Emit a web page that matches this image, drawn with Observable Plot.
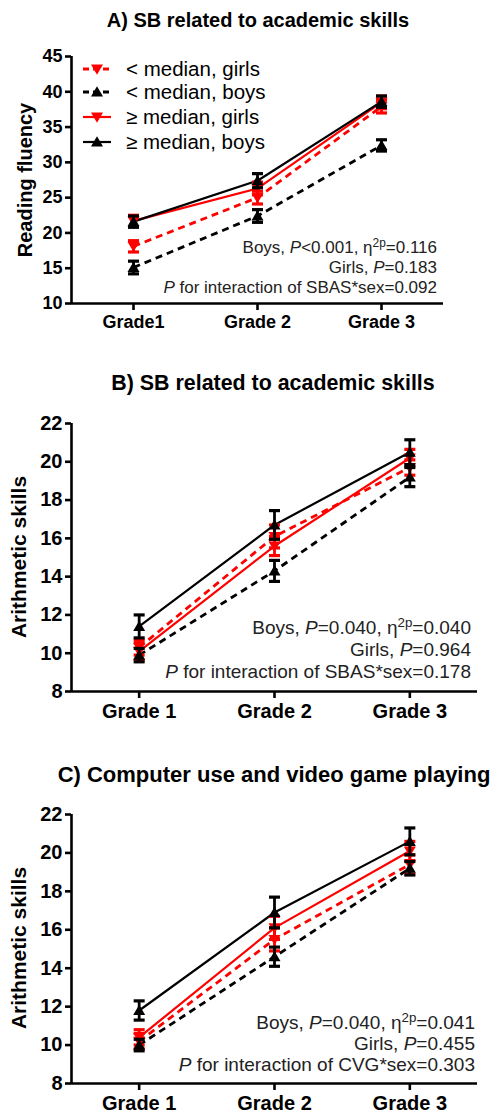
<!DOCTYPE html>
<html>
<head>
<meta charset="utf-8">
<script src="https://cdn.jsdelivr.net/npm/d3@7"></script>
<script src="https://cdn.jsdelivr.net/npm/@observablehq/plot@0.6"></script>
<style>
  html, body { margin: 0; padding: 0; background: #fff; }
  #root { position: relative; width: 493px; height: 1115px; font-family: "Liberation Sans", Arial, sans-serif; color: #000; overflow: hidden; }
  .abs { position: absolute; }
  .title { font-weight: bold; white-space: nowrap; transform: translate(-50%, -50%); }
  .ylab { font-weight: bold; white-space: nowrap; transform: translate(-50%, -50%) rotate(-90deg); }
  .note { text-align: right; white-space: nowrap; color: #222; }
  .note sup { font-size: 0.7em; vertical-align: 0.5em; line-height: 0; }
  .legend-row { position: absolute; display: flex; align-items: center; white-space: nowrap; }
</style>
</head>
<body>
<div id="root"></div>
<script>
// ---------- data ----------
const grades = [1, 2, 3];
const gradeLabelsA = ["Grade1", "Grade 2", "Grade 3"];
const gradeLabelsBC = ["Grade 1", "Grade 2", "Grade 3"];
const seriesNames = ["< median, girls", "< median, boys", "\u2265 median, girls", "\u2265 median, boys"];

const yTicksA = [10, 15, 20, 25, 30, 35, 40, 45];
const yTicksBC = [8, 10, 12, 14, 16, 18, 20, 22];

// Panel A: Reading fluency
const A_ltGirls = [18.1, 25.0, 37.9];
const A_ltGirlsErr = [0.8, 0.9, 0.9];
const A_ltBoys = [15.1, 22.4, 32.4];
const A_ltBoysErr = [0.9, 0.9, 0.8];
const A_geGirls = [21.7, 26.3, 38.5];
const A_geGirlsErr = [0.8, 0.9, 0.9];
const A_geBoys = [21.6, 27.4, 38.6];
const A_geBoysErr = [0.8, 1.0, 0.8];

// Panel B: Arithmetic skills (SB related to academic skills)
const B_ltGirls = [10.3, 16.1, 19.7];
const B_ltGirlsErr = [0.4, 0.6, 0.4];
const B_ltBoys = [9.9, 14.3, 19.2];
const B_ltBoysErr = [0.35, 0.55, 0.5];
const B_geGirls = [10.1, 15.6, 20.2];
const B_geGirlsErr = [0.45, 0.5, 0.45];
const B_geBoys = [11.4, 16.7, 20.5];
const B_geBoysErr = [0.6, 0.75, 0.65];

// Panel C: Arithmetic skills (Computer use and video game playing)
const C_ltGirls = [10.2, 15.5, 19.4];
const C_ltGirlsErr = [0.4, 0.6, 0.5];
const C_ltBoys = [10.0, 14.6, 19.2];
const C_ltBoysErr = [0.3, 0.5, 0.35];
const C_geGirls = [10.4, 16.1, 20.1];
const C_geGirlsErr = [0.4, 0.6, 0.5];
const C_geBoys = [11.8, 16.9, 20.6];
const C_geBoysErr = [0.5, 0.8, 0.7];

// ---------- styles ----------
const FONT = '"Liberation Sans", Arial, sans-serif';
const RED = "#ff0000";
const BLACK = "#000000";
const styles = [
  {color: RED,   dash: "7,5", down: true},
  {color: BLACK, dash: "7,5", down: false},
  {color: RED,   dash: null,  down: true},
  {color: BLACK, dash: null,  down: false}
];

const triDown = {draw(ctx, size) { const r = Math.sqrt(size / Math.PI); ctx.moveTo(-r, -r * 0.75); ctx.lineTo(r, -r * 0.75); ctx.lineTo(0, r * 0.95); ctx.closePath(); }};
const triUp = {draw(ctx, size) { const r = Math.sqrt(size / Math.PI); ctx.moveTo(-r, r * 0.75); ctx.lineTo(r, r * 0.75); ctx.lineTo(0, -r * 0.95); ctx.closePath(); }};
const cap = {draw(ctx, size) { const r = Math.sqrt(size / Math.PI); ctx.moveTo(-r, 0); ctx.lineTo(r, 0); }};

function rows(seriesArrays) {
  return seriesArrays.map(([vals, errs], s) => grades.map((g, i) => ({s, g, v: vals[i], e: errs[i]})));
}

const root = document.getElementById("root");

function panel({top, height, marginTop, marginBottom, marginRight, yDomain, yTicks, labels, data, fs}) {
  const marks = [
    Plot.ruleX([0.5], {strokeWidth: 2.6}),
    Plot.ruleY([yDomain[0]], {strokeWidth: 2.6}),
    Plot.axisY({ticks: yTicks, tickSize: 6, tickPadding: 3, strokeWidth: 2.6, fontSize: fs, fontWeight: "bold", fill: "#000", label: null, tickFormat: d => String(d)}),
    Plot.axisX({ticks: grades, tickSize: 7, tickPadding: 5, strokeWidth: 2.6, fontSize: fs, fontWeight: "bold", fill: "#000", label: null, tickFormat: d => labels[d - 1]})
  ];
  data.forEach((ser, s) => {
    const st = styles[s];
    marks.push(Plot.line(ser, {x: "g", y: "v", stroke: st.color, strokeWidth: st.dash ? 2.8 : 2.2, strokeDasharray: st.dash || undefined, strokeLinecap: "butt"}));
  });
  const order = [0, 2, 1, 3];
  order.forEach(s => {
    const ser = data[s];
    const st = styles[s];
    marks.push(Plot.ruleX(ser, {x: "g", y1: d => d.v - d.e, y2: d => d.v + d.e, stroke: st.color, strokeWidth: 2.8}));
    marks.push(Plot.dot(ser, {x: "g", y: d => d.v + d.e, symbol: cap, r: 5.5, stroke: st.color, strokeWidth: 3.2, fill: "none"}));
    marks.push(Plot.dot(ser, {x: "g", y: d => d.v - d.e, symbol: cap, r: 5.5, stroke: st.color, strokeWidth: 3.2, fill: "none"}));
    marks.push(Plot.dot(ser, {x: "g", y: "v", symbol: st.down ? triDown : triUp, r: 6, fill: st.color, stroke: "none"}));
  });
  const chart = Plot.plot({
    width: 493, height,
    marginLeft: 71, marginRight, marginTop, marginBottom,
    x: {domain: [0.5, 3.5], axis: null},
    y: {domain: yDomain, axis: null},
    style: {fontFamily: FONT, background: "transparent", overflow: "visible", color: "#000"},
    marks
  });
  const div = document.createElement("div");
  div.className = "abs";
  div.style.left = "0px";
  div.style.top = top + "px";
  div.appendChild(chart);
  root.appendChild(div);
}

function addDiv(cls, html, css) {
  const d = document.createElement("div");
  d.className = "abs " + cls;
  d.innerHTML = html;
  Object.assign(d.style, css);
  root.appendChild(d);
  return d;
}

panel({top: 0, height: 338, marginTop: 56, marginBottom: 35, marginRight: 50,
  yDomain: [10, 45], yTicks: yTicksA, labels: gradeLabelsA, fs: 18,
  data: rows([[A_ltGirls, A_ltGirlsErr], [A_ltBoys, A_ltBoysErr], [A_geGirls, A_geGirlsErr], [A_geBoys, A_geBoysErr]])});
panel({top: 395, height: 336, marginTop: 28, marginBottom: 40, marginRight: 16,
  yDomain: [8, 22], yTicks: yTicksBC, labels: gradeLabelsBC, fs: 20,
  data: rows([[B_ltGirls, B_ltGirlsErr], [B_ltBoys, B_ltBoysErr], [B_geGirls, B_geGirlsErr], [B_geBoys, B_geBoysErr]])});
panel({top: 785, height: 328, marginTop: 29, marginBottom: 30, marginRight: 16,
  yDomain: [8, 22], yTicks: yTicksBC, labels: gradeLabelsBC, fs: 20,
  data: rows([[C_ltGirls, C_ltGirlsErr], [C_ltBoys, C_ltBoysErr], [C_geGirls, C_geGirlsErr], [C_geBoys, C_geBoysErr]])});

addDiv("title", "A) SB related to academic skills", {left: "258px", top: "20px", fontSize: "20px"});
addDiv("title", "B) SB related to academic skills", {left: "273px", top: "383px", fontSize: "21.4px"});
addDiv("title", "C) Computer use and video game playing", {left: "274px", top: "775px", fontSize: "22px"});

addDiv("ylab", "Reading fluency", {left: "25px", top: "180px", fontSize: "20px"});
addDiv("ylab", "Arithmetic skills", {left: "19px", top: "557px", fontSize: "21px"});
addDiv("ylab", "Arithmetic skills", {left: "19px", top: "948px", fontSize: "21px"});

addDiv("note", "Boys, <i>P</i>&lt;0.001, \u03b7<sup>2p</sup>=0.116<br>Girls, <i>P</i>=0.183<br><i>P</i> for interaction of SBAS*sex=0.092",
  {right: (493 - 437) + "px", top: "238px", fontSize: "17px", lineHeight: "20px"});
addDiv("note", "Boys, <i>P</i>=0.040, \u03b7<sup>2p</sup>=0.040<br>Girls, <i>P</i>=0.964<br><i>P</i> for interaction of SBAS*sex=0.178",
  {right: (493 - 471) + "px", top: "617px", fontSize: "19px", lineHeight: "22px"});
addDiv("note", "Boys, <i>P</i>=0.040, \u03b7<sup>2p</sup>=0.041<br>Girls, <i>P</i>=0.455<br><i>P</i> for interaction of CVG*sex=0.303",
  {right: (493 - 475) + "px", top: "1012px", fontSize: "19px", lineHeight: "21px"});

const legendY = [69, 92, 117, 142];
seriesNames.forEach((name, s) => {
  const st = styles[s];
  const row = document.createElement("div");
  row.className = "legend-row";
  row.style.left = "82px";
  row.style.top = (legendY[s] - 13) + "px";
  row.style.height = "26px";
  row.style.fontSize = "20.5px";
  const svg = d3.create("svg").attr("width", 30).attr("height", 16).style("overflow", "visible").style("margin-right", "14px");
  svg.append("line").attr("x1", 1).attr("x2", 29).attr("y1", 8).attr("y2", 8)
    .attr("stroke", st.color).attr("stroke-width", st.dash ? 2.8 : 2.2)
    .attr("stroke-dasharray", st.dash ? "6,4" : null);
  const p = d3.path();
  (st.down ? triDown : triUp).draw(p, 6 * 6 * Math.PI);
  svg.append("path").attr("d", p.toString()).attr("transform", "translate(15,8)").attr("fill", st.color);
  row.appendChild(svg.node());
  const t = document.createElement("span");
  t.textContent = name;
  row.appendChild(t);
  root.appendChild(row);
});
</script>
</body>
</html>
